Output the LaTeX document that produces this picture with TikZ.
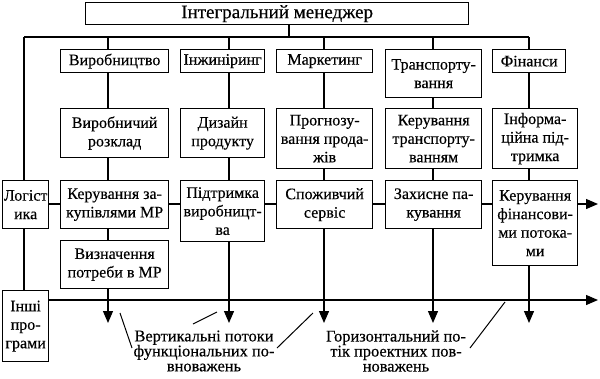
\documentclass[tikz,border=0pt]{standalone}
\usepackage{fontspec}
\setmainfont{Liberation Serif}[FakeBold=0.35]
\usetikzlibrary{positioning,arrows.meta}
\tikzset{
  blk/.style={draw,line width=1.3pt,align=center,inner sep=0pt,anchor=north west,
    font=\fontsize{16}{18.5}\selectfont},
  link/.style={line width=1.3pt},
  flowarr/.style={-{Triangle[length=12pt,width=10pt]},line width=1.3pt},
  note/.style={align=center,inner sep=0pt,font=\fontsize{16.4}{15}\selectfont},
  pointer/.style={line width=1pt}
}

\begin{document}
\begin{tikzpicture}[x=1pt,y=-1pt]
  \useasboundingbox (0,0) rectangle (600,378);
  % column axes and levels
  \coordinate (c0) at (24,0);
  \coordinate (c1) at (108,0);
  \coordinate (c2) at (229,0);
  \coordinate (c3) at (324,0);
  \coordinate (c4) at (433,0);
  \coordinate (c5) at (529,0);
  \coordinate (bus) at (289,37);
  \coordinate (mid) at (0,204);
  \coordinate (low) at (0,300);
  \coordinate (tips) at (0,323);
  \coordinate (outA) at (598,204);
  \coordinate (outB) at (598,300);

  \node[blk,minimum width=383pt,minimum height=22pt,font=\fontsize{19}{22}\selectfont] (mgr) at (85,2) {Інтегральний менеджер};

  % functions
  \node[blk,minimum width=108pt,minimum height=23pt] (vyr) at (60,49) {Виробництво};
  \node[blk,minimum width=84pt,minimum height=23pt] (inzh) at (180,49) {Інжиніринг};
  \node[blk,minimum width=96pt,minimum height=23pt] (mark) at (276,49) {Маркетинг};
  \node[blk,minimum width=96pt,minimum height=48pt] (trans) at (385,49) {Транспорту-\\вання};
  \node[blk,minimum width=73pt,minimum height=23pt] (fin) at (492,49) {Фінанси};

  \node[blk,minimum width=108pt,minimum height=49pt] (rozkl) at (60,108) {Виробничий\\розклад};
  \node[blk,minimum width=84pt,minimum height=49pt] (dyz) at (180,108) {Дизайн\\продукту};
  \node[blk,minimum width=96pt,minimum height=60pt] (prohn) at (276,108) {Прогнозу-\\вання прода-\\жів};
  \node[blk,minimum width=96pt,minimum height=60pt] (ktrans) at (385,108) {Керування\\транспорту-\\ванням};
  \node[blk,minimum width=85pt,minimum height=60pt] (info) at (492,108) {Інформа-\\ційна під-\\тримка};

  \node[blk,minimum width=46pt,minimum height=48pt] (log) at (2,180) {Логіст\\ика};
  \node[blk,minimum width=108pt,minimum height=48pt] (zakup) at (60,180) {Керування за-\\купівлями МР};
  \node[blk,minimum width=84pt,minimum height=61pt] (pidtr) at (180,180) {Підтримка\\виробницт-\\ва};
  \node[blk,minimum width=96pt,minimum height=48pt] (serv) at (276,180) {Споживчий\\сервіс};
  \node[blk,minimum width=96pt,minimum height=48pt] (pak) at (385,180) {Захисне па-\\кування};
  \node[blk,minimum width=85pt,minimum height=85pt] (kfin) at (492,180) {Керування\\фінансови-\\ми потока-\\ми};

  \node[blk,minimum width=108pt,minimum height=48pt] (potreb) at (60,240) {Визначення\\потреби в МР};
  \node[blk,minimum width=46pt,minimum height=71pt] (inshi) at (2,290) {Інші\\про-\\грами};

  % bus and columns
  \draw[link] (mgr.south -| bus) -- (bus);
  \draw[link] (c0 |- bus) -- (c5 |- bus);
  \draw[link] (c0 |- bus) -- (c0 |- log.north);
  \draw[link] (c0 |- log.south) -- (c0 |- inshi.north);
  \foreach \c/\a/\b/\d in {c1/vyr/rozkl/zakup,c2/inzh/dyz/pidtr,c3/mark/prohn/serv,
      c4/trans/ktrans/pak,c5/fin/info/kfin}{
    \draw[link] (\c |- bus) -- (\c |- \a.north);
    \draw[link] (\c |- \a.south) -- (\c |- \b.north);
    \draw[link] (\c |- \b.south) -- (\c |- \d.north);
  }
  \draw[link] (c1 |- zakup.south) -- (c1 |- potreb.north);

  % horizontal project links
  \draw[link] (log.east |- mid) -- (zakup.west |- mid);
  \draw[link] (zakup.east |- mid) -- (pidtr.west |- mid);
  \draw[link] (pidtr.east |- mid) -- (serv.west |- mid);
  \draw[link] (serv.east |- mid) -- (pak.west |- mid);
  \draw[link] (pak.east |- mid) -- (kfin.west |- mid);
  \draw[flowarr] (kfin.east |- mid) -- (outA);
  \draw[flowarr] (inshi.east |- low) -- (outB);

  % vertical flows
  \draw[flowarr] (c1 |- potreb.south) -- (c1 |- tips);
  \draw[flowarr] (c2 |- pidtr.south) -- (c2 |- tips);
  \draw[flowarr] (c3 |- serv.south) -- (c3 |- tips);
  \draw[flowarr] (c4 |- pak.south) -- (c4 |- tips);
  \draw[flowarr] (c5 |- kfin.south) -- (c5 |- tips);

  % captions
  \node[note] (vlab) at (204,351) {Вертикальні потоки\\функціональних по-\\вноважень};
  \node[note] (hlab) at (396,351) {Горизонтальний по-\\тік проектних пов-\\новажень};
  \coordinate (p1a) at (120,313); \coordinate (p1b) at (132,348);
  \coordinate (p2a) at (193,324); \coordinate (p2b) at (217,312);
  \coordinate (p3a) at (277,348); \coordinate (p3b) at (313,313);
  \coordinate (p4a) at (470,348); \coordinate (p4b) at (505,302);
  \draw[pointer] (p1a) -- (p1b);
  \draw[pointer] (p2a) -- (p2b);
  \draw[pointer] (p3a) -- (p3b);
  \draw[pointer] (p4a) -- (p4b);
\end{tikzpicture}
\end{document}
